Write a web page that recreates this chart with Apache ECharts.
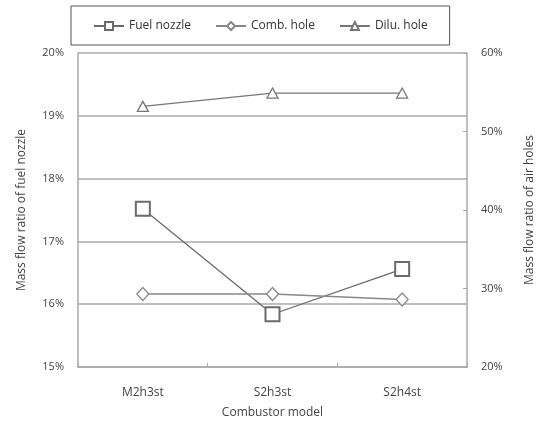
<!DOCTYPE html>
<html>
<head>
<meta charset="utf-8">
<script src="https://cdn.jsdelivr.net/npm/echarts@6/dist/echarts.min.js"></script>
<style>
  html, body { margin: 0; padding: 0; background: #fff; }
  #chart { width: 544px; height: 432px; }
</style>
</head>
<body>
<div id="chart"></div>
<script>
// combustor models
const models = ["M2h3st", "S2h3st", "S2h4st"];
// left axis (%)
const fuelNozzle = [17.52, 15.84, 16.56];
// right axis (%)
const combHole = [29.3, 29.3, 28.6];
const diluHole = [53.2, 54.9, 54.9];

const fontFam = "'Open Sans', 'DejaVu Sans', sans-serif";
const txt = "#444";
const lineCol = "#6a6a6a";
const gridCol = "#aaaaaa";

const chart = echarts.init(document.getElementById("chart"));

let option = {
  animation: false,
  textStyle: { fontFamily: fontFam },
  legend: {
    top: 6,
    left: 71,
    width: 382,
    padding: [14, 22, 13, 22],
    borderColor: "#555",
    borderWidth: 1,
    itemGap: 24,
    itemWidth: 30,
    itemHeight: 10,
    textStyle: { color: "#333", fontSize: 12, fontFamily: fontFam },
    data: ["Fuel nozzle", "Comb. hole", "Dilu. hole"],
  },
  grid: {
    left: 78,
    right: 74,
    top: 53,
    bottom: 65,
  },
  xAxis: {
    type: "category",
    data: models,
    boundaryGap: true,
    name: "Combustor model",
    nameLocation: "middle",
    nameGap: 40,
    nameTextStyle: { color: txt, fontSize: 12 },
    axisLine: { lineStyle: { color: gridCol, width: 1.5 } },
    axisTick: { show: true, inside: true, length: 4, lineStyle: { color: gridCol } },
    axisLabel: { color: txt, fontSize: 12, margin: 20 },
  },
  yAxis: [
    {
      type: "value",
      min: 15,
      max: 20,
      interval: 1,
      name: "Mass flow ratio of fuel nozzle",
      nameLocation: "middle",
      nameGap: 50,
      nameTextStyle: { color: txt, fontSize: 12 },
      axisLine: { show: true, lineStyle: { color: gridCol, width: 1.5 } },
      axisTick: { show: false },
      axisLabel: { color: txt, fontSize: 11, margin: 14, formatter: "{value}%" },
      splitLine: { show: true, lineStyle: { color: gridCol, width: 1.5 } },
    },
    {
      type: "value",
      min: 20,
      max: 60,
      interval: 10,
      position: "right",
      name: "Mass flow ratio of air holes",
      nameLocation: "middle",
      nameGap: 57,
      nameTextStyle: { color: txt, fontSize: 12 },
      axisLine: { show: true, lineStyle: { color: gridCol, width: 1.5 } },
      axisTick: { show: true, inside: true, length: 4, lineStyle: { color: gridCol } },
      axisLabel: { color: txt, fontSize: 11, margin: 14, formatter: "{value}%" },
      splitLine: { show: false },
    },
  ],
  series: [
    {
      name: "Fuel nozzle",
      type: "line",
      yAxisIndex: 0,
      data: fuelNozzle,
      symbol: "rect",
      symbolSize: 14,
      lineStyle: { color: lineCol, width: 1.3 },
      itemStyle: { color: "#fff", borderColor: lineCol, borderWidth: 2 },
    },
    {
      name: "Comb. hole",
      type: "line",
      yAxisIndex: 1,
      data: combHole,
      symbol: "diamond",
      symbolSize: [12, 13],
      lineStyle: { color: "#888", width: 1.3 },
      itemStyle: { color: "#fff", borderColor: "#888", borderWidth: 1.3 },
    },
    {
      name: "Dilu. hole",
      type: "line",
      yAxisIndex: 1,
      data: diluHole,
      symbol: "triangle",
      symbolSize: [11, 10],
      lineStyle: { color: "#777", width: 1.3 },
      itemStyle: { color: "#fff", borderColor: "#777", borderWidth: 1.3 },
    },
  ],
};

chart.setOption(option);
</script>
</body>
</html>
